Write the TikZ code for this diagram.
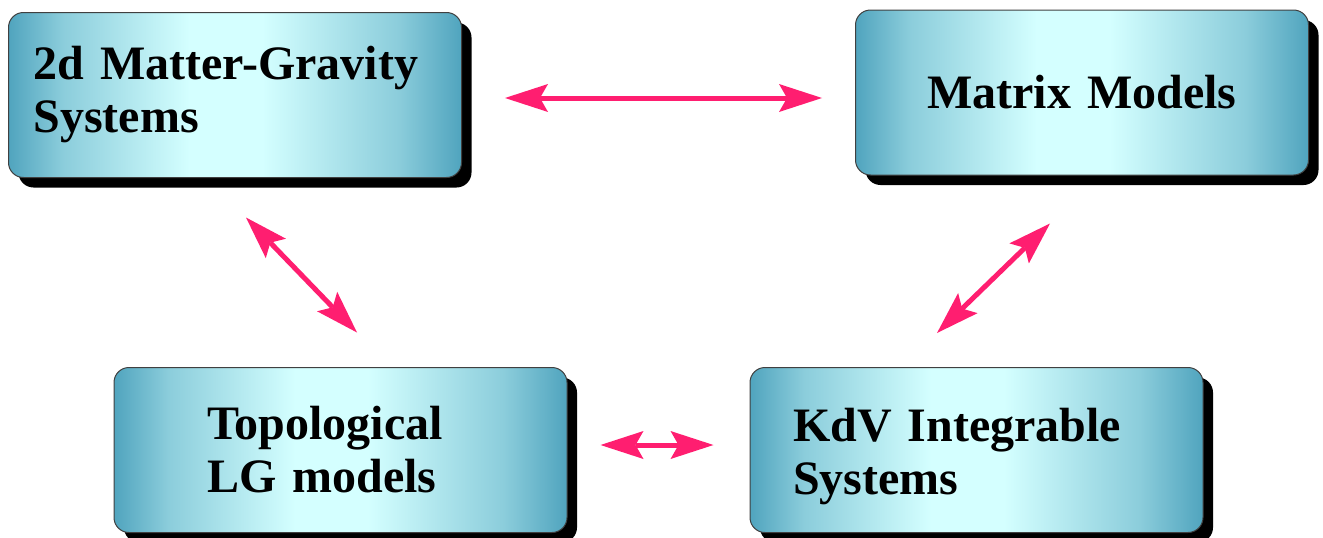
\documentclass[tikz,border=0pt]{standalone}
\usepackage{fontspec}
\setmainfont{Liberation Serif}
\usepackage{tikz}
\usetikzlibrary{arrows.meta,shadows}

\definecolor{arrowpink}{RGB}{255,30,112}
\definecolor{boxedge}{RGB}{80,164,190}
\definecolor{boxglow}{RGB}{212,255,255}

% the box face maps to 25bp..75bp of the shading
\pgfdeclarehorizontalshading{cyanbar}{100bp}{color(0bp)=(boxedge); color(25bp)=(boxedge); color(31bp)=(boxedge!55!boxglow);
	color(45bp)=(boxglow); color(53bp)=(boxglow); color(68bp)=(boxedge!55!boxglow); color(75bp)=(boxedge); color(100bp)=(boxedge)}

\tikzset{
	topicbox/.style={draw=black!75, line width=1pt, rounded corners=15pt,
		shade, shading=cyanbar,
		minimum width=453pt, minimum height=165pt, inner sep=0pt,
		drop shadow={shadow xshift=10pt, shadow yshift=-10pt, fill=black, opacity=1},
		font=\fontsize{48}{53}\selectfont\bfseries},
	link/.style={draw=arrowpink, line width=5pt,
		{Stealth[length=43pt,width=28pt,inset=8pt,line width=0pt]}-{Stealth[length=43pt,width=28pt,inset=8pt,line width=0pt]}}
}

\begin{document}
\begin{tikzpicture}[x=1pt,y=-1pt]
			\useasboundingbox (0,0) rectangle (1323,538);
			
			\node [topicbox, text width=403pt, align=left] (mattergrav) at (235,95) {2d Matter-Gravity\\Systems};
			\node [topicbox, text width=403pt, align=center] (matrix) at (1082,92.5) {Matrix Models};
			\node [topicbox, text width=267pt, align=left] (toplg) at (340.5,450) {Topological\\LG models};
			\node [topicbox, text width=367pt, align=left] (kdv) at (976.5,450) {\rule{0pt}{46pt}KdV Integrable\\Systems};
			
			% pink double arrows between the boxes
			\draw [link] ([shift={(43,3)}]mattergrav.east) -- ([shift={(-33,5.5)}]matrix.west);
			\draw [link] ([shift={(11,39.5)}]mattergrav.south) -- ([shift={(16.5,-34.5)}]toplg.north);
			\draw [link] ([shift={(-32,48)}]matrix.south) -- ([shift={(-39.5,-34)}]kdv.north);
			\draw [link] ([shift={(33,-5)}]toplg.east) -- ([shift={(-36,-5)}]kdv.west);
\end{tikzpicture}
\end{document}
